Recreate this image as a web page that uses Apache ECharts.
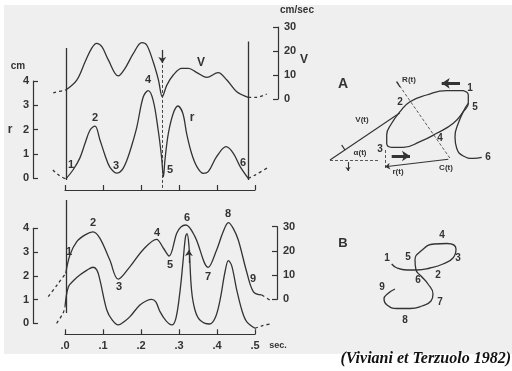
<!DOCTYPE html>
<html>
<head>
<meta charset="utf-8">
<script src="https://cdn.jsdelivr.net/npm/echarts@6/dist/echarts.min.js"></script>
<style>
html,body{margin:0;padding:0;background:#ffffff;}
#chart{width:512px;height:371px;}
</style>
</head>
<body>
<div id="chart"></div>
<script>
// ---------- DATA ----------
// time axis (sec)
const timeTicks = [0, 0.1, 0.2, 0.3, 0.4, 0.5];
const rTicks = [0, 1, 2, 3, 4];
const vTicks = [0, 10, 20, 30];

// Top panel: radius of curvature r (cm)
const topR_t = [0.002,0.021,0.039,0.053,0.066,0.079,0.092,0.105,0.118,0.137,0.150,0.163,0.176,0.189,0.206,0.219,0.232,0.245,0.254,0.259,0.263,0.272,0.285,0.297,0.310,0.320,0.333,0.347,0.364,0.377,0.399,0.424,0.443,0.461,0.482];
const topR_v = [-0.04,0.33,0.82,1.44,1.98,2.14,1.57,0.95,0.45,0.2,0.33,0.74,1.36,2.1,3.35,3.6,3.2,2.0,0.88,0.05,0.74,1.84,2.67,2.97,2.67,1.84,1.02,0.47,0.19,0.26,0.88,1.29,1.02,0.47,-0.01];
const topRLeft_t = [-0.032,-0.015,0.002];
const topRLeft_v = [0.33,0.1,-0.04];
const topRRight_t = [0.482,0.5,0.532];
const topRRight_v = [-0.01,0.12,0.41];

// Top panel: tangential velocity V (cm/sec)
const topV_t = [0.002,0.031,0.053,0.070,0.083,0.097,0.114,0.140,0.158,0.180,0.202,0.215,0.232,0.246,0.256,0.268,0.285,0.307,0.325,0.347,0.373,0.403,0.426,0.452,0.482];
const topV_v = [3.75,7.9,15.5,21.1,23.2,21.8,16.3,9.6,12.8,19,23.5,22.5,15.5,7.9,1,5.8,10,12.8,12.8,11,9,11,7.9,3,0.7];
const topVLeft_t = [-0.031,0.002];
const topVLeft_v = [2.6,3.75];
const topVRight_t = [0.482,0.504,0.531];
const topVRight_v = [0.7,0.7,2.1];

// Bottom panel: r (cm)
const botR_t = [0.0,0.009,0.024,0.039,0.058,0.074,0.084,0.092,0.110,0.124,0.140,0.158,0.171,0.197,0.216,0.228,0.239,0.25,0.266,0.281,0.292,0.303,0.311,0.317,0.321,0.326,0.333,0.342,0.355,0.380,0.395,0.408,0.421,0.430,0.439,0.452,0.466,0.478,0.5];
const botR_v = [0.7,1.54,1.82,2.03,2.24,2.36,2.24,1.82,0.56,0.14,-0.07,0.1,0.28,0.77,0.96,1.01,0.9,0.49,0.1,-0.07,0.22,1.4,2.67,3.63,3.78,3.3,1.4,0.56,0.14,-0.03,0.22,0.98,2.16,2.64,2.41,1.4,0.52,0.07,-0.21];
const botRLeft_t = [-0.022,-0.005,0.0];
const botRLeft_v = [0,0.43,0.7];
const botRRight_t = [0.5,0.518,0.539];
const botRRight_v = [-0.21,-0.11,-0.03];

// Bottom panel: V (cm/sec)
const botV_t = [0.002,0.013,0.031,0.053,0.074,0.092,0.118,0.140,0.171,0.205,0.241,0.259,0.274,0.294,0.305,0.318,0.342,0.377,0.399,0.416,0.430,0.442,0.456,0.478,0.496,0.518];
const botV_v = [10.7,18.3,23.8,26.6,27.9,25.2,16.2,8.3,13.5,20.4,24.8,21.1,17.9,27.3,29.9,30.7,25.9,13.2,20.4,27.8,31.7,29.5,24.5,11.4,3.1,1.8];
const botVLeft_t = [-0.044,-0.021,0.002];
const botVLeft_v = [1.1,5.9,10.7];
const botVRight_t = [0.518,0.539];
const botVRight_v = [1.8,-0.3];

// markers (time of events, and vertical extent in r units)
const topFrame_t = [0.002, 0.482];
const topFrame_r = [-0.08, 5.36];
const topCusp_t = 0.256;
const topCusp_r = [-0.41, 5.36];
const topArrow_r = [5.28, 4.74];
const botFrame_t = 0.002;
const botFrame_r = [0.43, 5.19];
const botArrow_t = 0.326;
const botArrow_r = [2.54, 3.09];

// Diagram A (drawing units)
const aLoop_x = [143.3,126.7,106.7,90,80,71.7,66.7,66.7,71.7,83.3,100,116.7,133.3,143.3,148.3,148.3,143.3];
const aLoop_y = [89.3,89.3,85,78.3,68.3,56.7,45,36.7,32.7,32.7,38.3,46.7,56.7,68.3,76.7,85,89.3];
const aTail_x = [148.3,145,138.3,135,136.7,143.3,153.3,161.7];
const aTail_y = [76.7,71.7,56.7,43.3,31.7,24,21.7,22.7];
const aTangent = [[10,20],[80,67.3]];
const aHoriz = [[10,20],[58.3,20]];
const aNormal = [[76.7,98.3],[130,21.7]];
const aRadius = [[128.3,20.7],[65,13.3]];
const aVert = [[65,30],[65,11.7]];
const aTick1 = [[21.7,35],[25,30]];
const aTick2 = [[76.7,98.3],[80,93]];
const aDown = [[28,18],[28,9]];
const aArrowTop = [[140,96.7],[121.7,96.7]];
const aArrowBot = [[71.7,24],[90,24]];

// Diagram B (drawing units)
const b_x = [21.7,27,37,47,60,73,83,86,77,64,51,45,46,51,58,63,61,52,40,27,17,14,18,25];
const b_y = [61,57,55,55,57,61,67,76,81.5,81,74,65,55,49,41,31,24,19,16.5,16.5,20,26,31.5,36];

// ---------- HELPERS ----------
const zip = (a, b) => a.map((v, i) => [v, b[i]]);
const INK = '#333333';
const FONT = 'Liberation Sans';

function curve(x, y, idx, dashed, extra) {
  return Object.assign({
    type: 'line', xAxisIndex: idx, yAxisIndex: idx, data: zip(x, y),
    smooth: 0.35, symbol: 'none', silent: true,
    lineStyle: { color: INK, width: 1.3, type: dashed ? [3, 3] : 'solid' }
  }, extra || {});
}
function seg(coords, idx, opts) {
  opts = opts || {};
  return {
    type: 'lines', coordinateSystem: 'cartesian2d', xAxisIndex: idx, yAxisIndex: idx,
    silent: true, symbol: opts.arrow ? ['none', 'arrow'] : 'none', symbolSize: opts.size || 6,
    lineStyle: { color: INK, width: opts.width || 1, type: opts.dashed ? [3, 2] : 'solid', opacity: 1, curveness: 0 },
    data: [{ coords: coords }]
  };
}

// pixel scale of each panel (px per unit) fixed by the visible axes
const gx = 65, gw = 190;               // t 0..0.5
const pxT = gw / 0.5;
const topRz = 178, topRs = 97 / 4;     // r zero line and px per cm (top)
const topVz = 99, topVs = 72 / 30;     // V zero line and px per cm/s (top)
const botRz = 323.3, botRs = 95 / 4;
const botVz = 299.3, botVs = 72.6 / 30;
// extended plotting ranges (hidden axes with same scale)
const tMin = -0.1, tMax = 0.6, rMin = -1, rMax = 6, vMin = -10, vMax = 40;

const grid = [
  { left: gx, top: topRz - 4 * topRs, width: gw, height: 4 * topRs },     // 0 top r axis
  { left: gx, top: topVz - 30 * topVs, width: gw, height: 30 * topVs },   // 1 top V axis
  { left: gx, top: botRz - 4 * botRs, width: gw, height: 4 * botRs },     // 2 bottom r axis
  { left: gx, top: botVz - 30 * botVs, width: gw, height: 30 * botVs },   // 3 bottom V axis
  { left: 320, top: 70, width: 180, height: 110 },                        // 4 diagram A
  { left: 370, top: 225, width: 100, height: 100 },                       // 5 diagram B
  { left: gx + tMin * pxT, width: (tMax - tMin) * pxT, top: topRz - rMax * topRs, height: (rMax - rMin) * topRs },  // 6 top r plot
  { left: gx + tMin * pxT, width: (tMax - tMin) * pxT, top: topVz - vMax * topVs, height: (vMax - vMin) * topVs },  // 7 top V plot
  { left: gx + tMin * pxT, width: (tMax - tMin) * pxT, top: botRz - rMax * botRs, height: (rMax - rMin) * botRs },  // 8 bottom r plot
  { left: gx + tMin * pxT, width: (tMax - tMin) * pxT, top: botVz - vMax * botVs, height: (vMax - vMin) * botVs }   // 9 bottom V plot
];
const axisLabelStyle = { color: INK, fontSize: 11, fontFamily: FONT, fontWeight: 'bold' };
const lineSt = { color: INK, width: 1.2 };

const hiddenX = gi => ({ gridIndex: gi, type: 'value', min: tMin, max: tMax, show: false });
const xAxis = [
  { gridIndex: 0, type: 'value', min: 0, max: 0.5, interval: 0.1, offset: 12,
    axisLine: { onZero: false, lineStyle: lineSt }, axisTick: { inside: true, length: 5, lineStyle: lineSt },
    axisLabel: { show: false }, splitLine: { show: false } },
  { gridIndex: 1, type: 'value', min: 0, max: 0.5, show: false },
  { gridIndex: 2, type: 'value', min: 0, max: 0.5, interval: 0.1, offset: 11,
    axisLine: { onZero: false, lineStyle: lineSt }, axisTick: { inside: true, length: 5, lineStyle: lineSt },
    axisLabel: Object.assign({ margin: 6, formatter: v => '.' + Math.round(v * 10) }, axisLabelStyle), splitLine: { show: false } },
  { gridIndex: 3, type: 'value', min: 0, max: 0.5, show: false },
  { gridIndex: 4, type: 'value', min: 0, max: 180, show: false },
  { gridIndex: 5, type: 'value', min: 0, max: 100, show: false },
  hiddenX(6), hiddenX(7), hiddenX(8), hiddenX(9)
];
function yAx(gi, pos, max, interval, offset, margin) {
  return { gridIndex: gi, type: 'value', position: pos, min: 0, max: max, interval: interval, offset: offset,
    axisLine: { show: true, onZero: false, lineStyle: lineSt },
    axisTick: { show: true, inside: true, length: 5, lineStyle: lineSt },
    axisLabel: Object.assign({ margin: margin }, axisLabelStyle), splitLine: { show: false } };
}
const yAxis = [
  yAx(0, 'left', rTicks[rTicks.length - 1], 1, 32, 4),
  yAx(1, 'right', vTicks[vTicks.length - 1], 10, 23, 6),
  yAx(2, 'left', rTicks[rTicks.length - 1], 1, 32, 4),
  yAx(3, 'right', vTicks[vTicks.length - 1], 10, 22, 6),
  { gridIndex: 4, type: 'value', min: 0, max: 110, show: false },
  { gridIndex: 5, type: 'value', min: 0, max: 100, show: false },
  { gridIndex: 6, type: 'value', min: rMin, max: rMax, show: false },
  { gridIndex: 7, type: 'value', min: vMin, max: vMax, show: false },
  { gridIndex: 8, type: 'value', min: rMin, max: rMax, show: false },
  { gridIndex: 9, type: 'value', min: vMin, max: vMax, show: false }
];

const series = [
  // top panel
  curve(topR_t, topR_v, 6, false),
  curve(topRLeft_t, topRLeft_v, 6, true),
  curve(topRRight_t, topRRight_v, 6, true),
  curve(topV_t, topV_v, 7, false),
  curve(topVLeft_t, topVLeft_v, 7, true),
  curve(topVRight_t, topVRight_v, 7, true),
  seg([[topFrame_t[0], topFrame_r[0]], [topFrame_t[0], topFrame_r[1]]], 6, { width: 1.3 }),
  seg([[topFrame_t[1], topFrame_r[0]], [topFrame_t[1], topFrame_r[1] + 0.27]], 6, { width: 1.3 }),
  seg([[topCusp_t, topCusp_r[0]], [topCusp_t, topCusp_r[1]]], 6, { dashed: true, width: 0.9 }),
  seg([[topCusp_t, topArrow_r[0]], [topCusp_t, topArrow_r[1]]], 6, { arrow: true, width: 1.3, size: 6 }),
  // bottom panel
  curve(botR_t, botR_v, 8, false),
  curve(botRLeft_t, botRLeft_v, 8, true),
  curve(botRRight_t, botRRight_v, 8, true),
  curve(botV_t, botV_v, 9, false),
  curve(botVLeft_t, botVLeft_v, 9, true),
  curve(botVRight_t, botVRight_v, 9, true),
  seg([[botFrame_t, botFrame_r[0]], [botFrame_t, botFrame_r[1]]], 8, { width: 1.3 }),
  seg([[botArrow_t, botArrow_r[0]], [botArrow_t, botArrow_r[1]]], 8, { arrow: true, width: 1.3, size: 6 }),
  // diagram A
  curve(aLoop_x, aLoop_y, 4, false, { smooth: 0.5 }),
  curve(aTail_x, aTail_y, 4, false, { smooth: 0.5 }),
  seg(aTangent, 4, { width: 1.1 }),
  seg(aHoriz, 4, { dashed: true, width: 0.8 }),
  seg(aNormal, 4, { dashed: true, width: 0.8 }),
  seg(aRadius, 4, { arrow: true, width: 1.1, size: 5 }),
  seg(aVert, 4, { dashed: true, width: 0.8 }),
  seg(aTick1, 4, { width: 1.3 }),
  seg(aTick2, 4, { width: 1.3 }),
  seg(aDown, 4, { arrow: true, width: 1.1, size: 4 }),
  seg(aArrowTop, 4, { arrow: true, width: 3, size: 8 }),
  seg(aArrowBot, 4, { arrow: true, width: 3, size: 8 }),
  // diagram B
  curve(b_x, b_y, 5, false, { smooth: 0.5 })
];

function txt(t, x, y, size, extra) {
  return { type: 'text', x: x, y: y, silent: true,
    style: Object.assign({ text: t, fill: INK, font: 'bold ' + (size || 11) + 'px "' + FONT + '"', textAlign: 'center', textVerticalAlign: 'middle' }, extra || {}) };
}

const graphic = [
  { type: 'rect', z: -10, silent: true, shape: { x: 4, y: 5, width: 508, height: 349 }, style: { fill: '#efefef' } },
  // top panel labels
  txt('cm', 18, 66, 10),
  txt('r', 10, 130, 12),
  txt('cm/sec', 297, 10, 10),
  txt('V', 304, 60, 12),
  txt('V', 201, 63, 12),
  txt('r', 192, 118, 12),
  txt('1', 71, 165), txt('2', 95, 118), txt('3', 116, 166), txt('4', 148, 80), txt('5', 170, 170), txt('6', 243, 163),
  // bottom panel labels
  txt('1', 69, 252), txt('2', 93, 223), txt('3', 119, 287), txt('4', 157, 233), txt('5', 170, 265),
  txt('6', 187, 218), txt('7', 208, 277), txt('8', 228, 214), txt('9', 253, 279),
  txt('sec.', 278, 346, 9),
  // diagram A labels
  txt('A', 343, 84, 14),
  txt('1', 470, 88, 10), txt('2', 400, 102, 10), txt('3', 380, 149, 10), txt('4', 440, 138, 10),
  txt('5', 475, 107, 10), txt('6', 488, 157, 10),
  txt('R(t)', 409, 80, 8), txt('V(t)', 362, 120, 8), txt('α(t)', 360, 153, 8), txt('r(t)', 398, 172, 8), txt('C(t)', 446, 168, 8),
  // diagram B labels
  txt('B', 343, 243, 13),
  txt('1', 387, 258, 10), txt('5', 408, 257, 10), txt('4', 442, 235, 10), txt('3', 458, 258, 10), txt('2', 438, 275, 10),
  txt('6', 418, 280, 10), txt('9', 382, 287, 10), txt('7', 440, 302, 10), txt('8', 405, 320, 10),
  // caption
  { type: 'text', x: 511, y: 359, silent: true,
    style: { text: '(Viviani et Terzuolo 1982)', fill: '#111', font: 'italic bold 16px "Liberation Serif"', textAlign: 'right', textVerticalAlign: 'middle' } }
];

const chart = echarts.init(document.getElementById('chart'), null, { renderer: 'canvas' });
chart.setOption({
  animation: false,
  backgroundColor: '#ffffff',
  grid: grid,
  xAxis: xAxis,
  yAxis: yAxis,
  series: series,
  graphic: graphic
});
</script>
</body>
</html>
